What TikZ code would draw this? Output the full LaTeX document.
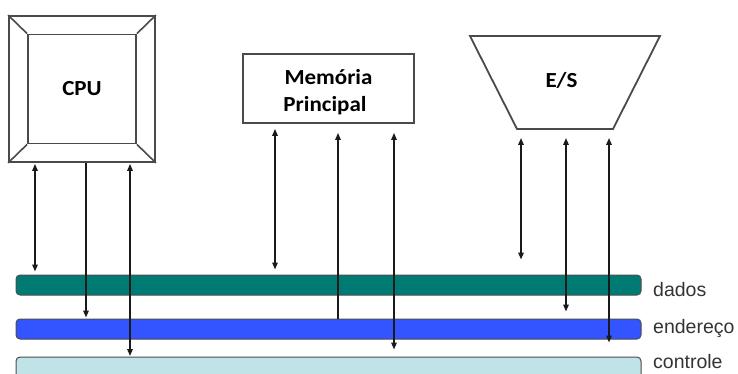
\documentclass[tikz,border=0pt]{standalone}
\usepackage{fontspec}
\setmainfont{Liberation Sans}
\newfontfamily\boxfont[FakeStretch=1.07]{Carlito}
\usetikzlibrary{arrows.meta,calc}
\definecolor{dadosc}{HTML}{007B73}
\definecolor{endc}{HTML}{3355FF}
\definecolor{ctrlc}{HTML}{BFE3E6}
\definecolor{framec}{HTML}{4A4A4A}
\definecolor{linec}{HTML}{1A1A1A}
\definecolor{labelc}{HTML}{333333}
\begin{document}
\begin{tikzpicture}[x=1pt,y=-1pt,
  frame/.style={draw=framec, line width=1.8pt, fill=white, inner sep=0pt},
  boxtxt/.style={font=\boxfont\bfseries\fontsize{21.5}{27}\selectfont, text=black, inner sep=0pt},
  bus/.style={draw=black!70, line width=1pt, rounded corners=4pt, minimum width=625pt, minimum height=20pt, inner sep=0pt},
  buslabel/.style={font=\fontsize{19.5}{24}\selectfont, text=labelc, anchor=base west, inner sep=0pt},
  sig/.style={draw=linec, line width=1.5pt},
  tip/.tip={Triangle[length=7pt,width=5.5pt]},
  dbl/.style={sig, tip-tip},
  down/.style={sig, -tip},
  up/.style={sig, tip-}
]
\useasboundingbox (0,0) rectangle (738,374);
% buses
\node[bus, fill=dadosc] (dados) at (328.5,285) {};
\node[bus, fill=endc] (ender) at (328.5,329) {};
\node[bus, fill=ctrlc, minimum height=24pt] (ctrl) at (328.5,369) {};
\node[buslabel] (ldados) at (653,296.5) {dados};
\node[buslabel] (lender) at (653,333) {endereço};
\node[buslabel] (lctrl) at (653,368) {controle};
% CPU
\node[frame, minimum width=146pt, minimum height=146pt] (cpu) at (82,89) {};
\node[frame, boxtxt, draw=framec, minimum width=108pt, minimum height=109pt] (cpuin) at (cpu.center) {CPU};
\draw[framec, line width=1.6pt] (cpu.north west) -- (cpuin.north west)
  (cpu.north east) -- (cpuin.north east)
  (cpu.south west) -- (cpuin.south west)
  (cpu.south east) -- (cpuin.south east);
% Memoria
\node[frame, minimum width=171pt, minimum height=69pt] (mem) at (328.5,88.5) {};
\node[boxtxt, anchor=base] (memt1) at (328.5,85) {Memória};
\node[boxtxt, anchor=base] (memt2) at (325,112) {Principal};
% E/S
\coordinate (estl) at (470,36);
\coordinate (estr) at (660,36);
\coordinate (esbr) at (613,129);
\coordinate (esbl) at (517,129);
\draw[frame] (estl) -- (estr) -- (esbr) -- (esbl) -- cycle;
\node[boxtxt] (es) at (561.5,80.5) {E/S};
% x positions
\coordinate (x1) at (35,0);
\coordinate (x2) at (86,0);
\coordinate (x3) at (130,0);
\coordinate (x4) at (275,0);
\coordinate (x5) at (338,0);
\coordinate (x6) at (394,0);
\coordinate (x7) at (521,0);
\coordinate (x8) at (566,0);
\coordinate (x9) at (609,0);
% CPU connectors
\draw[dbl, shorten <=1pt, shorten >=3pt] (x1 |- cpu.south) -- (x1 |- dados.north);
\draw[down, shorten >=1pt] (x2 |- cpu.south) -- (x2 |- ender.north);
\draw[dbl, shorten <=1pt, shorten >=0.5pt] (x3 |- cpu.south) -- (x3 |- ctrl.north);
% Memory connectors
\draw[dbl, shorten <=5pt, shorten >=5pt] (x4 |- mem.south) -- (x4 |- dados.north);
\draw[up, shorten <=9pt] (x5 |- mem.south) -- (x5 |- ender.north);
\draw[dbl, shorten <=9pt, shorten >=7pt] (x6 |- mem.south) -- (x6 |- ctrl.north);
% E/S connectors
\draw[dbl, shorten <=9pt, shorten >=15pt] (x7 |- esbl) -- (x7 |- dados.north);
\draw[dbl, shorten <=9pt, shorten >=7pt] (x8 |- esbl) -- (x8 |- ender.north);
\draw[dbl, shorten <=9pt, shorten >=14pt] (x9 |- esbl) -- (x9 |- ctrl.north);
\end{tikzpicture}
\end{document}
